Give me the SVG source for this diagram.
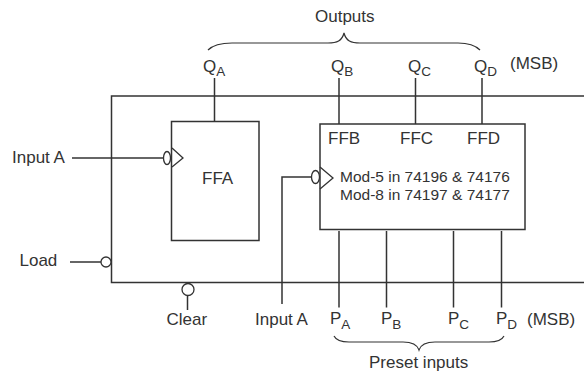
<svg xmlns="http://www.w3.org/2000/svg" width="584" height="372" viewBox="0 0 584 372">
<style>
text{font-family:"Liberation Sans",Arial,sans-serif;font-size:17px;fill:#333}
.s{font-size:13.500px}
.m{font-size:15.500px}
.l{fill:none;stroke:#333;stroke-width:1.500}
.b{fill:none;stroke:#333;stroke-width:1.200}
.c{fill:#fff;stroke:#333;stroke-width:1.300}
.t{fill:none;stroke:#333;stroke-width:1.300}
</style>
<rect width="584" height="372" fill="#fff"/>
<g id="outer"><path class="l" d="M584 96H111.500V282.500H584"/></g>
<g id="connectors">
<path class="l" d="M214.500 78V121.500M339 78V124M415.500 78V124M482 78V124"/>
<path class="l" d="M72 158H163"/>
<path class="l" d="M311 177H282V304"/>
<path class="l" d="M339 231V307.500M386.500 231V307.500M453.500 231V307.500M501.500 231V307.500"/>
<path class="l" d="M70 262H101"/>
<path class="l" d="M187.500 296V310"/>
<path class="b" d="M208 50C213 45 222 43 232 43H328C337 43 342 41 344 33C346 41 351 43 360 43H458C468 43 475 45 480 50"/>
<path class="b" d="M334 336C336 340 341 342 349 342H403C412 342 417 344 419 350C421 344 426 342 435 342H489C497 342 502 340 504 336"/>
</g>
<g id="ffa">
<rect class="l" x="171.500" y="121.500" width="87.500" height="119"/>
<ellipse class="c" cx="167" cy="158" rx="3.500" ry="6.500"/>
<path class="t" d="M172 148L183 158L172 167"/>
<text x="202" y="184">FFA</text>
</g>
<g id="ffbcd">
<rect class="l" x="320" y="124" width="205" height="105.500"/>
<ellipse class="c" cx="315.500" cy="177" rx="4" ry="6.500"/>
<path class="t" d="M320 167L333 178L320 189"/>
<text x="328" y="143.500">FFB</text>
<text x="400" y="143.500">FFC</text>
<text x="467" y="143.500">FFD</text>
<text class="m" x="340" y="181.500">Mod-5 in 74196 &amp; 74176</text>
<text class="m" x="340" y="200">Mod-8 in 74197 &amp; 74177</text>
</g>
<g id="load"><circle class="c" cx="106" cy="262" r="5"/><text x="19.500" y="266">Load</text></g>
<g id="clear"><circle class="c" cx="188" cy="289.500" r="6"/><text x="166.500" y="325">Clear</text></g>
<g id="labels">
<text x="12" y="163">Input A</text>
<text x="255" y="325">Input A</text>
<text x="315" y="22">Outputs</text>
<text x="510" y="69">(MSB)</text>
<text x="527" y="325">(MSB)</text>
<text x="369" y="368">Preset inputs</text>
<text x="203" y="72">Q<tspan class="s" dy="4">A</tspan></text>
<text x="331" y="72">Q<tspan class="s" dy="4">B</tspan></text>
<text x="408" y="72">Q<tspan class="s" dy="4">C</tspan></text>
<text x="474" y="72">Q<tspan class="s" dy="4">D</tspan></text>
<text x="330" y="324">P<tspan class="s" dy="5">A</tspan></text>
<text x="381" y="324">P<tspan class="s" dy="5">B</tspan></text>
<text x="448" y="324">P<tspan class="s" dy="5">C</tspan></text>
<text x="496" y="324">P<tspan class="s" dy="5">D</tspan></text>
</g>
</svg>
